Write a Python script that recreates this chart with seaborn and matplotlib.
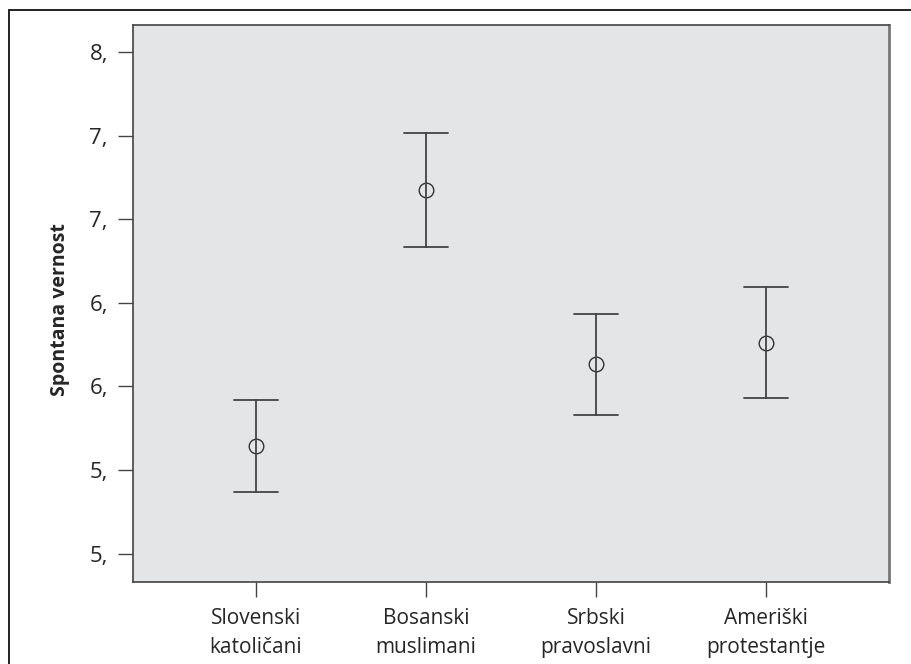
import matplotlib
matplotlib.use("Agg")
import matplotlib.pyplot as plt
from matplotlib.lines import Line2D
import numpy as np
import pandas as pd
import seaborn as sns

categories = ["Slovenski\nkatoličani", "Bosanski\nmuslimani", "Srbski\npravoslavni", "Ameriški\nprotestantje"]
means = [5.645, 7.172, 6.132, 6.259]
lower = [5.370, 6.831, 5.830, 5.928]
upper = [5.918, 7.515, 6.434, 6.596]
ytick_values = [5.0, 5.5, 6.0, 6.5, 7.0, 7.5, 8.0]
ytick_labels = ["5,", "5,", "6,", "6,", "7,", "7,", "8,"]
ylabel = "Spontana vernost"

rows = []
for c, lo, m, hi in zip(categories, lower, means, upper):
    for v in (lo, m, hi):
        rows.append({"group": c, "value": v})
df = pd.DataFrame(rows)

sns.set_style("white")
plt.rcParams["font.family"] = ["Open Sans", "DejaVu Sans"]

fig = plt.figure(figsize=(9.12, 6.64), dpi=100)
ax = fig.add_axes([133/912, 1-582/664, (889-133)/912, (582-25)/664])
ax.set_facecolor("#e4e5e7")

dark = "#333333"
sns.pointplot(data=df, x="group", y="value", order=categories,
              estimator="median", errorbar=("pi", 100),
              capsize=0.258, linestyle="none", marker="o",
              markersize=10.5, markerfacecolor="none", markeredgecolor=dark,
              markeredgewidth=1.0, color=dark,
              err_kws={"color": "#444444", "linewidth": 1.3}, ax=ax)

ax.set_xlim(-0.72, 3.72)
ax.set_ylim(4.83, 8.161)
ax.set_yticks(ytick_values)
ax.set_yticklabels(ytick_labels, fontsize=16)
ax.set_xticks(range(len(categories)))
ax.set_xticklabels(categories, fontsize=15, linespacing=1.5)
ax.tick_params(axis="both", which="both", direction="out", length=11, width=1.0,
               color="#444444", left=True, bottom=True)
ax.tick_params(axis="y", pad=7)
ax.tick_params(axis="x", pad=8)
ax.set_xlabel("")
ax.set_ylabel(ylabel, fontsize=14, fontweight="bold")
ax.yaxis.set_label_coords(-0.083, 0.49)

for s in ax.spines.values():
    s.set_visible(True)
    s.set_color("#444444")
    s.set_linewidth(1.2)
ax.spines["right"].set_color("#777777")
ax.spines["right"].set_linewidth(2)

fig.add_artist(Line2D([9.5/912, 9.5/912], [0, 1-9.5/664], transform=fig.transFigure, color="#222222", lw=1.4))
fig.add_artist(Line2D([9.5/912, 1], [1-9.5/664, 1-9.5/664], transform=fig.transFigure, color="#222222", lw=1.4))

fig.savefig("out.png", dpi=100, facecolor="white")
